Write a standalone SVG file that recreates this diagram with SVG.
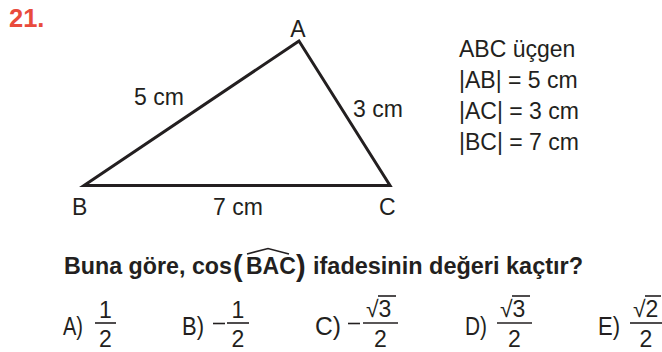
<svg xmlns="http://www.w3.org/2000/svg" width="662" height="352" viewBox="0 0 662 352">
<style>
text{font-family:"Liberation Sans",Arial,sans-serif;fill:#231f20}
.t{font-size:23px}
.b{font-size:23px;font-weight:bold}
.a{font-size:23px}
.L{font-size:25px}
.m{text-anchor:middle}
.ln{stroke:#231f20;stroke-width:1.6;fill:none}
</style>
<rect width="662" height="352" fill="#fff"/>
<text x="9" y="27" style="font-size:25.5px;font-weight:bold;fill:#e94b3c">21.</text>
<g id="triangle">
<polygon points="299,41 84,185.5 390,185.5" fill="none" stroke="#231f20" stroke-width="3" stroke-linejoin="miter"/>
</g>
<g id="vertexA"><text class="t m" x="298" y="37">A</text></g>
<g id="vertexB"><text class="t" x="72" y="215">B</text></g>
<g id="vertexC"><text class="t" x="379" y="215">C</text></g>
<g id="sides">
<text class="t" x="134" y="105">5 cm</text>
<text class="t" x="353" y="117">3 cm</text>
<text class="t" x="213" y="215">7 cm</text>
</g>
<g id="given">
<text class="t" x="459" y="57">ABC üçgen</text>
<text class="t" x="459" y="88">|AB| = 5 cm</text>
<text class="t" x="459" y="119">|AC| = 3 cm</text>
<text class="t" x="459" y="150">|BC| = 7 cm</text>
</g>
<g id="question">
<text class="b" x="64" y="274" textLength="168" lengthAdjust="spacingAndGlyphs">Buna göre, cos</text>
<text x="233" y="276" style="font-size:29px;font-weight:bold">(</text>
<text class="b" x="246" y="274">BAC</text>
<path d="M247,254 L268,248.5 L289,254" fill="none" stroke="#231f20" stroke-width="1.6"/>
<text x="296" y="276" style="font-size:29px;font-weight:bold">)</text>
<text class="b" x="313" y="274" textLength="270" lengthAdjust="spacingAndGlyphs">ifadesinin değeri kaçtır?</text>
</g>
<g id="answers">
<text class="L" x="63" y="335" textLength="20" lengthAdjust="spacingAndGlyphs">A)</text>
<text class="a m" x="105.5" y="318">1</text>
<line class="ln" x1="95" y1="323" x2="116" y2="323"/>
<text class="a m" x="105.5" y="347">2</text>

<text class="L" x="182" y="335" textLength="22" lengthAdjust="spacingAndGlyphs">B)</text>
<line class="ln" x1="213" y1="323.5" x2="225" y2="323.5"/>
<text class="a m" x="238" y="318">1</text>
<line class="ln" x1="227" y1="323" x2="249" y2="323"/>
<text class="a m" x="238" y="347">2</text>

<text class="L" x="315" y="335" textLength="26" lengthAdjust="spacingAndGlyphs">C)</text>
<line class="ln" x1="348" y1="323.5" x2="360" y2="323.5"/>
<text class="a" x="366" y="317">√3</text>
<line class="ln" x1="378" y1="296" x2="396" y2="296"/>
<line class="ln" x1="363" y1="323" x2="398" y2="323"/>
<text class="a m" x="380.5" y="347">2</text>

<text class="L" x="465" y="335" textLength="22" lengthAdjust="spacingAndGlyphs">D)</text>
<text class="a" x="500" y="317">√3</text>
<line class="ln" x1="512" y1="296" x2="530" y2="296"/>
<line class="ln" x1="497" y1="323" x2="532" y2="323"/>
<text class="a m" x="514.5" y="347">2</text>

<text class="L" x="598" y="335" textLength="22" lengthAdjust="spacingAndGlyphs">E)</text>
<text class="a" x="633" y="317">√2</text>
<line class="ln" x1="645" y1="296" x2="661" y2="296"/>
<line class="ln" x1="630" y1="323" x2="662" y2="323"/>
<text class="a m" x="646" y="347">2</text>
</g>
</svg>
